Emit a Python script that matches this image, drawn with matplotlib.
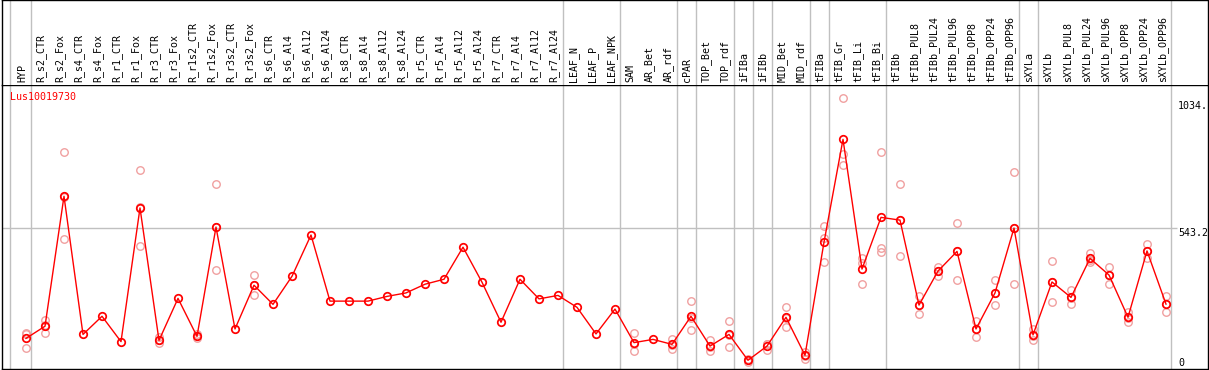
import matplotlib as mpl
mpl.use('Agg')
import numpy as np
import matplotlib.pyplot as plt

gene = 'Lus10019730'

samples = ['HYP', 'R_s2_CTR', 'R_s2_Fox', 'R_s4_CTR', 'R_s4_Fox', 'R_r1_CTR', 'R_r1_Fox',
           'R_r3_CTR', 'R_r3_Fox', 'R_r1s2_CTR', 'R_r1s2_Fox', 'R_r3s2_CTR', 'R_r3s2_Fox',
           'R_s6_CTR', 'R_s6_Al4', 'R_s6_Al12', 'R_s6_Al24', 'R_s8_CTR', 'R_s8_Al4',
           'R_s8_Al12', 'R_s8_Al24', 'R_r5_CTR', 'R_r5_Al4', 'R_r5_Al12', 'R_r5_Al24',
           'R_r7_CTR', 'R_r7_Al4', 'R_r7_Al12', 'R_r7_Al24', 'LEAF_N', 'LEAF_P', 'LEAF_NPK',
           'SAM', 'AR_Bet', 'AR_rdf', 'cPAR', 'TOP_Bet', 'TOP_rdf', 'iFIBa', 'iFIBb',
           'MID_Bet', 'MID_rdf', 'tFIBa', 'tFIB_Gr', 'tFIB_Li', 'tFIB_Bi', 'tFIBb',
           'tFIBb_PUL8', 'tFIBb_PUL24', 'tFIBb_PUL96', 'tFIBb_OPP8', 'tFIBb_OPP24',
           'tFIBb_OPP96', 'sXYLa', 'sXYLb', 'sXYLb_PUL8', 'sXYLb_PUL24', 'sXYLb_PUL96',
           'sXYLb_OPP8', 'sXYLb_OPP24', 'sXYLb_OPP96']

# mean expression per sample
means = [99, 148, 671, 115, 188, 86, 624, 91, 260, 107, 547, 137, 313,
         236, 349, 515, 249, 249, 249, 268, 282, 317, 337, 466, 325,
         164, 337, 258, 272, 224, 117, 217,
         82, 95, 75, 188, 68, 115, 11, 68, 184, 31,
         486, 900, 378, 586, 575, 233, 370, 449, 137, 282, 543,
         113, 326, 264, 421, 354, 184, 451, 237]

# individual replicates (empty = single value)
reps = [[117, 120, 59], [173, 152, 119], [849, 666, 498], [], [], [], [775, 627, 470],
        [103, 91, 79], [], [115, 107, 99], [719, 549, 373], [], [353, 313, 272],
        [], [], [], [], [], [], [], [], [], [], [], [], [], [], [], [], [], [], [],
        [119, 77, 50], [], [97, 72, 56], [249, 182, 133], [93, 64, 47], [169, 112, 64],
        [16, 11, 6], [76, 75, 53], [224, 183, 145], [46, 29, 18],
        [551, 504, 408], [1065, 841, 795], [421, 401, 317], [848, 464, 448],
        [719, 575, 431], [270, 233, 197], [388, 370, 351], [562, 452, 333],
        [170, 136, 105], [333, 280, 233], [767, 545, 317],
        [136, 110, 93], [409, 324, 245], [294, 262, 236], [441, 414, 408],
        [388, 356, 318], [207, 181, 164], [479, 450, 424], [270, 237, 204]]

# last sample of each group -> separator drawn after it
group_ends = [0, 28, 31, 34, 35, 37, 38, 39, 41, 42, 45, 52, 53, 60]

y_mid = 543.2
y_max = 1034

W, H = 1209, 370
fig = plt.figure(figsize=(W / 100., H / 100.), dpi=100)
mono = 'DejaVu Sans Mono'
fs = 7.2

# plot area and header (labels) area, in pixels
ax = fig.add_axes([2. / W, 1. / H, 1206. / W, 284. / H])
hx = fig.add_axes([2. / W, 285. / H, 1206. / W, 85. / H], sharex=ax)

ind = np.arange(len(samples))
ax.set_xlim((2 - 26) / 19., (1208 - 26) / 19.)
ax.set_ylim((363 - 369) / 0.2485, (363 - 85) / 0.2485)
hx.set_ylim(0, 85)

for a in (ax, hx):
    a.set_xticks([])
    a.set_yticks([])
    for s in a.spines.values():
        s.set_color('black')
        s.set_linewidth(1)
hx.spines['bottom'].set_visible(False)

# group separators
seps = [-0.83] + [g + 0.24 for g in group_ends]
for xs in seps:
    ax.axvline(xs, color='#c0c0c0', lw=1, zorder=1)
    hx.axvline(xs, color='#c0c0c0', lw=1, zorder=1)

ax.hlines(y_mid, ax.get_xlim()[0], (1177 - 26) / 19., color='#c0c0c0', lw=1, zorder=1)

# replicates
for i, r in enumerate(reps):
    if r:
        ax.plot([i] * len(r), r, 'o', ms=5.4, mfc='none', mec='#f0a0a0', mew=1.0, zorder=2)

ax.plot(ind, means, '-', color='red', lw=1, zorder=3)
ax.plot(ind, means, 'o', ms=5.4, mfc='none', mec='red', mew=1.25, zorder=4)

# sample labels
for i, name in enumerate(samples):
    hx.text(i - 0.2, 2.5, name, rotation=90, ha='center', va='bottom',
            family=mono, fontsize=fs, color='black')

ax.text(-0.86, (363 - 97) / 0.2485, gene, color='red', family=mono, fontsize=fs,
        ha='left', va='center')

xl = (1178 - 26) / 19.
ax.text(xl, y_max, '%d.' % y_max, family=mono, fontsize=fs, ha='left', va='center')
ax.text(xl, y_mid, '%.1f' % y_mid, family=mono, fontsize=fs, ha='left', va='top')
ax.text(xl, 0, '0', family=mono, fontsize=fs, ha='left', va='center')

fig.savefig('out.png', dpi=100)
